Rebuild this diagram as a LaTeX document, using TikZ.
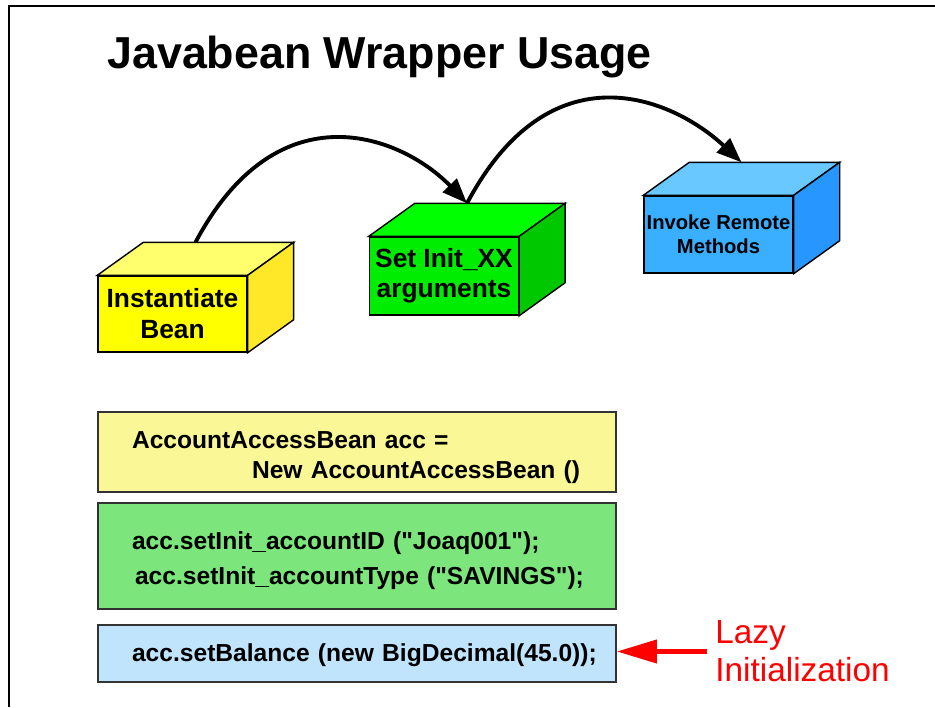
\documentclass[tikz,border=0pt]{standalone}
\usepackage{fontspec}
\setmainfont{Liberation Sans}[Ligatures=TeXOff]
\usetikzlibrary{arrows.meta,positioning}

% cube colours
\definecolor{yelFront}{RGB}{255,255,0}
\definecolor{yelTop}{RGB}{255,255,110}
\definecolor{yelSide}{RGB}{255,232,40}
\definecolor{grnFront}{RGB}{0,236,0}
\definecolor{grnTop}{RGB}{0,255,0}
\definecolor{grnSide}{RGB}{0,200,0}
\definecolor{bluFront}{RGB}{58,174,255}
\definecolor{bluTop}{RGB}{104,200,255}
\definecolor{bluSide}{RGB}{40,150,255}
% code box colours
\definecolor{codeYel}{RGB}{250,248,150}
\definecolor{codeGrn}{RGB}{124,230,124}
\definecolor{codeBlu}{RGB}{192,228,252}
\definecolor{lazyRed}{RGB}{255,0,0}

\tikzset{
  cubefront/.style={draw, line width=0.8pt, minimum width=2.98cm, inner sep=0pt, align=center},
  codebox/.style={draw=black!80, line width=1.1pt, minimum width=10.36cm, text width=9cm,
    inner xsep=0.68cm, inner ysep=0pt, align=left, font=\fontsize{14}{17}\selectfont\bfseries},
  flow/.style={line width=2.2pt, -{Triangle[length=0.5cm,width=0.38cm]},
    out looseness=1.65, in looseness=0.87},
  lazyarrow/.style={draw=lazyRed, line width=2.3pt, -{Triangle[length=0.8cm,width=0.46cm]},
    shorten <=0.16cm}
}

\begin{document}
\begin{tikzpicture}[x=0.02cm, y=0.02cm]
  \useasboundingbox (0,0) rectangle (935,707);
  % Frame
  \draw [line width=1pt] (9,0) -- (9,701) -- (935,701);
  % Title
  \node [anchor=base west, inner sep=0, font=\fontsize{25.5}{30}\selectfont\bfseries] (title) at (107,638) {Javabean Wrapper Usage};
  % Cubes
  \node [cubefront, fill=yelFront, minimum height=1.52cm, font=\fontsize{15}{17.6}\selectfont\bfseries] (inst) at (172.5,393) {Instantiate\\Bean};
  \node [cubefront, fill=grnFront, minimum height=1.56cm, font=\fontsize{15}{17}\selectfont\bfseries] (setinit) at (444,431) {Set Init\_XX\\arguments};
  \node [cubefront, fill=bluFront, minimum height=1.54cm, font=\fontsize{11.5}{13.6}\selectfont\bfseries] (invoke) at (718.5,472.5) {Invoke Remote\\Methods};
  \foreach \n/\t/\s in {inst/yelTop/yelSide, setinit/grnTop/grnSide, invoke/bluTop/bluSide} {
    \draw [line width=0.8pt, fill=\t] (\n.north west) -- ++(46,33) -- ([shift={(46,33)}]\n.north east) -- (\n.north east) -- cycle;
    \draw [line width=0.8pt, fill=\s] (\n.north east) -- ([shift={(46,33)}]\n.north east) -- ([shift={(46,33)}]\n.south east) -- (\n.south east) -- cycle;
    \coordinate (\n-top) at ([shift={(23,33)}]\n.north);
  }
  % Flow arrows
  \draw [flow] (inst-top) to [out=62,in=134] (setinit-top);
  \draw [flow] (setinit-top) to [out=62,in=137] (invoke-top);
  % Code boxes
  \node [codebox, fill=codeYel, minimum height=1.6cm] (codeA) at (357,255) {\mbox{\rule{0pt}{0.56cm}AccountAccessBean acc =}\\\mbox{\hspace*{2.4cm}New AccountAccessBean ()}};
  \node [codebox, fill=codeGrn, minimum height=2.12cm, font=\fontsize{14}{19.8}\selectfont\bfseries] (codeB) at (357,151) {\mbox{\rule{0pt}{0.54cm}acc.setInit\_accountID ("Joaq001");}\\\mbox{\hspace*{0.06cm}acc.setInit\_accountType ("SAVINGS");}};
  \node [codebox, fill=codeBlu, minimum height=1.14cm] (codeC) at (357,53.5) {\mbox{\rule{0pt}{0.44cm}acc.setBalance (new BigDecimal(45.0));}};
  % Lazy initialization
  \node [anchor=west, inner sep=0, align=left, text=lazyRed, font=\fontsize{19}{21.5}\selectfont] (lazy) at (715,55.5) {Lazy\\Initialization};
  \draw [lazyarrow] (lazy.west) -- (lazy.west -| codeC.east);
\end{tikzpicture}
\end{document}
